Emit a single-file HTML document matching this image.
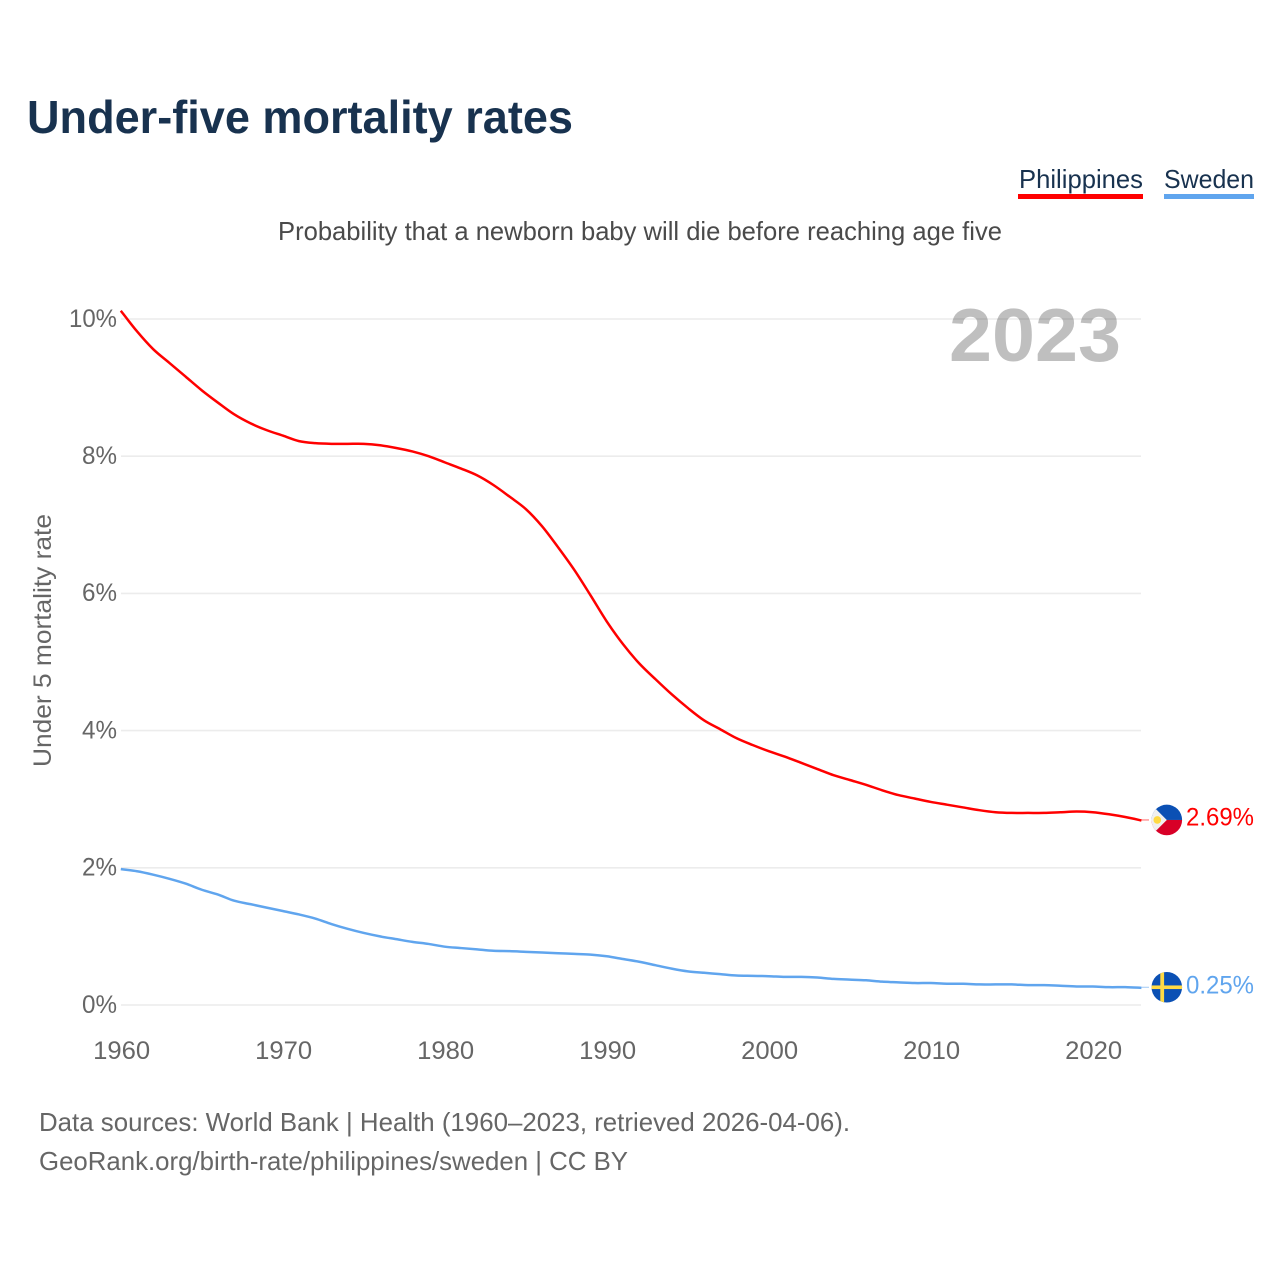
<!DOCTYPE html>
<html lang="en">
<head>
<meta charset="utf-8">
<title>Under-five mortality rates</title>
<style>
html,body{margin:0;padding:0;background:#fff;}
svg{display:block;font-family:"Liberation Sans",sans-serif;}
</style>
</head>
<body>
<svg id="chart" xmlns="http://www.w3.org/2000/svg" width="1280" height="1280" viewBox="0 0 1280 1280">
  <rect x="0" y="0" width="1280" height="1280" fill="#fff"/>
  <text x="27" y="133" font-size="46" font-weight="700" fill="#18324f" textLength="546" lengthAdjust="spacingAndGlyphs">Under-five mortality rates</text>
  <text x="278" y="240" font-size="26" fill="#4a4a4a" textLength="724" lengthAdjust="spacingAndGlyphs">Probability that a newborn baby will die before reaching age five</text>

  <g>
    <text x="1019" y="188" font-size="26" fill="#18324f" textLength="124" lengthAdjust="spacingAndGlyphs">Philippines</text>
    <rect x="1018" y="194" width="125" height="5" fill="#ff0000"/>
  </g>
  <g>
    <text x="1164" y="188" font-size="26" fill="#18324f" textLength="90" lengthAdjust="spacingAndGlyphs">Sweden</text>
    <rect x="1164" y="194" width="90" height="5" fill="#60a5ee"/>
  </g>

  <text transform="translate(51,767) rotate(-90)" x="0" y="0" font-size="25" fill="#666" textLength="253" lengthAdjust="spacingAndGlyphs">Under 5 mortality rate</text>

  <g id="grid"></g>
  <g id="yticks"></g>
  <g id="xticks"></g>

  <text x="949" y="361" font-size="75" font-weight="700" fill="#000" fill-opacity="0.25" textLength="172" lengthAdjust="spacingAndGlyphs">2023</text>

  <g id="series"></g>

  <g id="end-markers"></g>

  <text x="39" y="1131" font-size="26" fill="#666" textLength="811" lengthAdjust="spacingAndGlyphs">Data sources: World Bank | Health (1960–2023, retrieved 2026-04-06).</text>
  <text x="39" y="1170" font-size="26" fill="#666" textLength="589" lengthAdjust="spacingAndGlyphs">GeoRank.org/birth-rate/philippines/sweden | CC BY</text>
</svg>
<script>
const startYear = 1960;
const yTicks = [0, 2, 4, 6, 8, 10];
const xTicks = [1960, 1970, 1980, 1990, 2000, 2010, 2020];
const philippines = [
  10.12, 9.82, 9.56, 9.36, 9.16, 8.96, 8.78, 8.61, 8.48, 8.38,
  8.30, 8.22, 8.19, 8.18, 8.18, 8.18, 8.16, 8.12, 8.07, 8.00,
  7.91, 7.82, 7.72, 7.58, 7.41, 7.23, 6.98, 6.67, 6.34, 5.97,
  5.59, 5.26, 4.98, 4.75, 4.53, 4.33, 4.15, 4.02, 3.89, 3.79,
  3.70, 3.62, 3.53, 3.44, 3.35, 3.28, 3.21, 3.13, 3.06, 3.01,
  2.96, 2.92, 2.88, 2.84, 2.81, 2.80, 2.80, 2.80, 2.81, 2.82,
  2.81, 2.78, 2.74, 2.69
];
const sweden = [
  1.98, 1.95, 1.90, 1.84, 1.77, 1.68, 1.61, 1.52, 1.47, 1.42,
  1.37, 1.32, 1.26, 1.18, 1.11, 1.05, 1.00, 0.96, 0.92, 0.89,
  0.85, 0.83, 0.81, 0.79, 0.785, 0.775, 0.765, 0.755, 0.745, 0.735,
  0.71, 0.67, 0.63, 0.58, 0.53, 0.49, 0.47, 0.45, 0.43, 0.425,
  0.42, 0.41, 0.41, 0.40, 0.38, 0.37, 0.36, 0.34, 0.33, 0.32,
  0.32, 0.31, 0.31, 0.30, 0.30, 0.30, 0.29, 0.29, 0.28, 0.27,
  0.27, 0.26, 0.26, 0.25
];

const NS = 'http://www.w3.org/2000/svg';
const xScale = function (year) { return 120.8 + (year - 1960) * 16.2; };
const yScale = function (v) { return 1005 - v * 68.6; };

function mk(tag, attrs, parent, text) {
  const el = document.createElementNS(NS, tag);
  for (const k in attrs) el.setAttribute(k, attrs[k]);
  if (text !== undefined) el.textContent = text;
  parent.appendChild(el);
  return el;
}

const grid = document.getElementById('grid');
const yTickGroup = document.getElementById('yticks');
yTicks.forEach(function (t) {
  const y = yScale(t);
  const line = mk('line', {x1: 121, x2: 1141, y1: y, y2: y, stroke: '#ececec', 'stroke-width': 1.6}, grid);
  
  
  const lab = mk('text', {x: 117, y: y + 7.8, 'text-anchor': 'end', 'font-size': 25, fill: '#666', textLength: String(t).length === 2 ? 48 : 35, lengthAdjust: 'spacingAndGlyphs'}, yTickGroup, t + '%');
  
  
});

const xTickGroup = document.getElementById('xticks');
xTicks.forEach(function (t) {
  const lab = mk('text', {x: xScale(t) - 28.5 + 0.9, y: 1059, 'font-size': 25, fill: '#666', textLength: 57, lengthAdjust: 'spacingAndGlyphs'}, xTickGroup, String(t));
  
  
});

// Smooth curve through every data point (Catmull-Rom converted to cubic Bezier).
function linePath(values) {
  const pts = values.map(function (v, i) { return [xScale(startYear + i), yScale(v)]; });
  let d = 'M' + pts[0][0].toFixed(2) + ' ' + pts[0][1].toFixed(2);
  for (let i = 0; i < pts.length - 1; i++) {
    const p0 = pts[Math.max(i - 1, 0)];
    const p1 = pts[i];
    const p2 = pts[i + 1];
    const p3 = pts[Math.min(i + 2, pts.length - 1)];
    const c1x = p1[0] + (p2[0] - p0[0]) / 6;
    const c1y = p1[1] + (p2[1] - p0[1]) / 6;
    const c2x = p2[0] - (p3[0] - p1[0]) / 6;
    const c2y = p2[1] - (p3[1] - p1[1]) / 6;
    d += ' C' + c1x.toFixed(2) + ' ' + c1y.toFixed(2) + ' ' + c2x.toFixed(2) + ' ' + c2y.toFixed(2) + ' ' + p2[0].toFixed(2) + ' ' + p2[1].toFixed(2);
  }
  return d;
}

const seriesGroup = document.getElementById('series');
const philLine = mk('path', {d: linePath(philippines), fill: 'none', stroke: '#ff0000', 'stroke-width': 2.5, 'stroke-linejoin': 'round'}, seriesGroup);


const sweLine = mk('path', {d: linePath(sweden), fill: 'none', stroke: '#60a5ee', 'stroke-width': 2.5, 'stroke-linejoin': 'round'}, seriesGroup);



const markers = document.getElementById('end-markers');
const lastYear = startYear + philippines.length - 1;
const endX = xScale(lastYear);
const flagX = 1166.8;
const pV = philippines[philippines.length - 1];
const sV = sweden[sweden.length - 1];
const pY = yScale(pV) - 0.5;
const sY = yScale(sV) - 0.6;

const pConn = mk('line', {x1: endX, x2: 1149, y1: pY, y2: pY, stroke: '#ff0000', 'stroke-width': 1, opacity: 0.6}, markers);


const sConn = mk('line', {x1: endX, x2: 1149, y1: sY, y2: sY, stroke: '#60a5ee', 'stroke-width': 1, opacity: 0.6}, markers);



const defs = mk('defs', {}, markers);
const cp1 = mk('clipPath', {id: 'clip-ph'}, defs);
mk('circle', {cx: flagX, cy: pY, r: 15.3}, cp1);
const cp2 = mk('clipPath', {id: 'clip-se'}, defs);
mk('circle', {cx: flagX, cy: sY, r: 15.3}, cp2);

const phFlag = mk('g', {'clip-path': 'url(#clip-ph)'}, markers);


mk('rect', {x: flagX - 16, y: pY - 16, width: 32, height: 16, fill: '#0b50b4'}, phFlag);
mk('rect', {x: flagX - 16, y: pY, width: 32, height: 16, fill: '#d80027'}, phFlag);
mk('polygon', {points: (flagX - 16) + ',' + (pY - 16) + ' ' + flagX + ',' + pY + ' ' + (flagX - 16) + ',' + (pY + 16), fill: '#f0f0f0'}, phFlag);
mk('circle', {cx: flagX - 9.5, cy: pY, r: 3.8, fill: '#ffda44'}, phFlag);

const seFlag = mk('g', {'clip-path': 'url(#clip-se)'}, markers);


mk('rect', {x: flagX - 16, y: sY - 16, width: 32, height: 32, fill: '#0b50b4'}, seFlag);
mk('rect', {x: flagX - 16, y: sY - 1.8, width: 32, height: 3.6, fill: '#ffda44'}, seFlag);
mk('rect', {x: flagX - 6.5, y: sY - 16, width: 3.8, height: 32, fill: '#ffda44'}, seFlag);

const pLab = mk('text', {x: 1186, y: 825.5, 'font-size': 25, fill: '#ff0000', textLength: 68, lengthAdjust: 'spacingAndGlyphs'}, markers, pV.toFixed(2) + '%');


const sLab = mk('text', {x: 1186, y: 993.5, 'font-size': 25, fill: '#60a5ee', textLength: 68, lengthAdjust: 'spacingAndGlyphs'}, markers, sV.toFixed(2) + '%');


</script>
</body>
</html>
